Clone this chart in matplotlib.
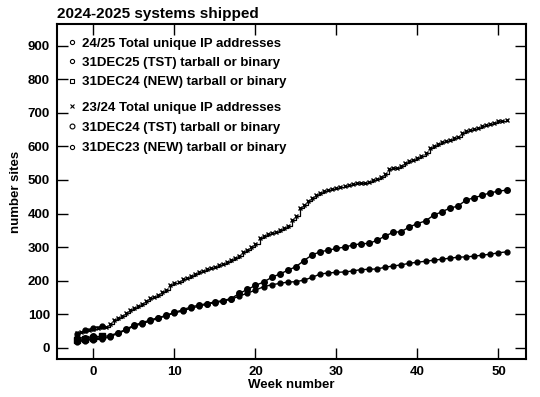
import numpy as np
import matplotlib
matplotlib.use("Agg")
import matplotlib.pyplot as plt
from matplotlib.lines import Line2D

plt.rcParams['font.family'] = ['Liberation Sans', 'DejaVu Sans']
plt.rcParams['font.weight'] = 'bold'

# 23/24 season, total unique IP addresses (half-week samples)
tot_weeks = np.arange(-2, 51.5, 0.5)
tot_2324 = [44, 46, 50, 52, 55, 58, 62, 63, 72, 82, 88, 95, 104, 112, 120, 125,
            131, 140, 148, 152, 158, 165, 172, 186, 192, 197, 204, 209, 215, 221,
            226, 230, 234, 238, 242, 246, 250, 256, 262, 268, 275, 284, 292, 300,
            308, 328, 334, 338, 342, 346, 350, 356, 362, 380, 394, 415, 426, 437,
            446, 456, 462, 466, 469, 472, 475, 478, 481, 484, 487, 490, 491, 492,
            495, 499, 504, 510, 518, 532, 534, 535, 540, 550, 557, 560, 565, 572,
            580, 594, 600, 607, 612, 616, 620, 624, 628, 640, 645, 650, 653, 656,
            660, 664, 667, 670, 674, 676, 679]

# weekly counts for the releases
weeks = np.arange(-2, 52)
tst_dec24 = [30, 30, 34, 34, 36, 45, 55, 68, 75, 83, 90, 97, 106, 113, 122, 127,
             132, 137, 141, 147, 162, 174, 186, 196, 210, 220, 231, 242, 260, 277,
             286, 291, 296, 300, 306, 310, 311, 320, 333, 344, 346, 360, 370, 378,
             395, 405, 416, 422, 440, 447, 454, 462, 466, 470]
new_dec23 = [20, 25, 24, 26, 33, 43, 53, 65, 72, 80, 88, 96, 104, 110, 118, 124,
             130, 135, 139, 145, 154, 163, 172, 182, 188, 192, 196, 197, 202, 210,
             220, 223, 225, 226, 229, 233, 234, 235, 240, 244, 247, 252, 255, 258,
             261, 264, 267, 270, 271, 273, 276, 279, 283, 286]

# 24/25 season, only the first few weeks so far
new_weeks = [-2, -1, 0, 1]
tot_2425 = [40, 52, 60, 64]
tst_dec25 = [18, 22, 26, 30]
new_dec24 = [24, 28, 30, 34]

fig = plt.figure(figsize=(5.4, 3.97), dpi=100)
ax = fig.add_axes([0.1056, 0.0957, 0.8684, 0.8438])

ax.plot(tot_weeks, tot_2324, color='black', lw=0.9, drawstyle='steps-post')
ax.plot(tot_weeks, tot_2324, 'x', color='black', ms=3.5, mew=1)
ax.plot(weeks, tst_dec24, 'o-', color='black', lw=1, ms=4)
ax.plot(weeks, new_dec23, 'o-', color='black', lw=1, ms=3.5)
ax.plot(new_weeks, tot_2425, 'o-', color='black', lw=1, ms=3.5)
ax.plot(new_weeks, tst_dec25, 'o-', color='black', lw=1, ms=3.5)
ax.plot(new_weeks, new_dec24, 's-', color='black', lw=1, ms=4)

ax.set_xlim(-4.5, 53.4)
ax.set_ylim(-33, 964)
ax.set_xticks(np.arange(0, 60, 10))
ax.set_yticks(np.arange(0, 1000, 100))
ax.tick_params(direction='in', length=8, width=1, top=True, right=True,
               labelsize=9.5, pad=5)
for s in ax.spines.values():
    s.set_linewidth(1.5)

ax.set_xlabel('Week number', fontsize=9.5, fontweight='bold', labelpad=1)
ax.set_ylabel('number sites', fontsize=9.5, fontweight='bold', labelpad=4)
ax.set_title('2024-2025 systems shipped', loc='left', fontsize=11,
             fontweight='bold', pad=4)

def mk(marker, ms, fill='none'):
    return Line2D([], [], ls='none', marker=marker, ms=ms, color='black',
                  mfc=fill, mew=0.8)

leg1 = ax.legend([mk('o', 3), mk('o', 3), mk('s', 3.5)],
                 ['24/25 Total unique IP addresses',
                  '31DEC25 (TST) tarball or binary',
                  '31DEC24 (NEW) tarball or binary'],
                 loc='upper left', bbox_to_anchor=(0.0, 0.988), frameon=False,
                 fontsize=9.5, handlelength=0.8, handletextpad=0.4,
                 labelspacing=0.55, borderaxespad=0.3)
ax.add_artist(leg1)
ax.legend([mk('x', 3), mk('o', 3.5), mk('o', 3)],
          ['23/24 Total unique IP addresses',
           '31DEC24 (TST) tarball or binary',
           '31DEC23 (NEW) tarball or binary'],
          loc='upper left', bbox_to_anchor=(0.0, 0.796), frameon=False,
          fontsize=9.5, handlelength=0.8, handletextpad=0.4,
          labelspacing=0.6, borderaxespad=0.3)

fig.savefig('out.png', dpi=100)
